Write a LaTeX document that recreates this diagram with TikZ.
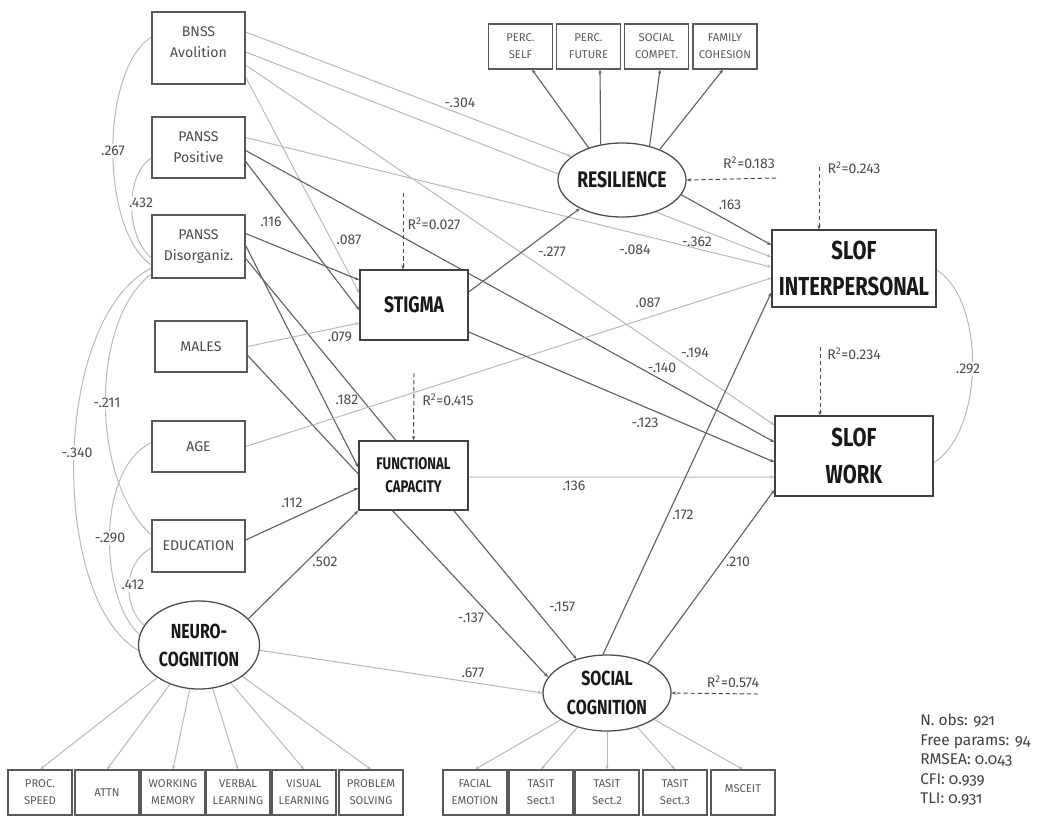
\documentclass[tikz,border=0pt]{standalone}
\usepackage{fontspec}
\setmainfont{Fira Sans}
\newfontfamily\headfont[FakeStretch=0.78]{Fira Sans}
\newfontfamily\statfont[Numbers=OldStyle]{Fira Sans}
\usetikzlibrary{shapes.geometric,arrows.meta,calc,backgrounds}

\begin{document}
\begin{tikzpicture}[x=0.025cm,y=-0.025cm,
    obs/.style={draw=black!65, line width=0.9pt, rectangle, fill=white, align=center, text=black!70, font=\fontsize{10}{15}\selectfont, inner sep=1pt},
    ind/.style={draw=black!65, line width=0.8pt, rectangle, fill=white, align=center, text=black!65, font=\fontsize{8}{12}\selectfont, minimum width=1.6cm, minimum height=1.125cm, inner sep=1pt},
    latent/.style={draw=black!70, line width=0.9pt, ellipse, fill=white, align=center, text=black!90, inner sep=0pt},
    big/.style={draw=black!75, line width=1pt, rectangle, fill=white, align=center, text=black!90, inner sep=1pt},
    strong/.style={draw=black!62, line width=0.8pt, -{Stealth[length=3pt,width=2.4pt]}},
    weak/.style={draw=black!28, line width=0.7pt, -{Stealth[length=3pt,width=2.4pt]}},
    cov/.style={draw=black!28, line width=0.7pt},
    r2/.style={draw=black!70, densely dashed, line width=0.7pt, -{Stealth[length=3pt,width=2.4pt]}},
    coef/.style={text=black!70, font=\fontsize{10}{12}\selectfont, inner sep=1pt},
    gap/.style={coef, fill=white, inner sep=1.5pt}]
\useasboundingbox (0,0) rectangle (1045,824);

% Predictors
\node[obs, minimum width=2.325cm, minimum height=1.8cm] (bnss) at (198.5,48) {BNSS\\Avolition\\[-6pt]\mbox{}};
\node[obs, minimum width=2.325cm, minimum height=1.525cm] (ppos) at (198.5,147.5) {PANSS\\Positive};
\node[obs, minimum width=2.325cm, minimum height=1.575cm] (pdis) at (198.5,246.5) {PANSS\\Disorganiz.};
\node[obs, minimum width=2.3cm, minimum height=1.275cm] (males) at (201,346.5) {MALES};
\node[obs, minimum width=2.325cm, minimum height=1.275cm] (age) at (198.5,446.5) {AGE};
\node[obs, minimum width=2.325cm, minimum height=1.3cm] (edu) at (198.5,546) {EDUCATION};

% Mediators
\node[big, minimum width=2.7cm, minimum height=1.75cm, font=\headfont\bfseries\fontsize{16}{20}\selectfont] (stigma) at (414,305) {STIGMA};
\node[big, minimum width=2.725cm, minimum height=1.725cm, font=\headfont\bfseries\fontsize{12}{16.5}\selectfont] (funccap) at (413.5,475.5) {FUNCTIONAL\\CAPACITY};
\node[latent, minimum width=3.2cm, minimum height=1.85cm, font=\headfont\bfseries\fontsize{16}{20}\selectfont] (res) at (622,180) {RESILIENCE};
\node[latent, minimum width=3.2cm, minimum height=1.9cm, font=\headfont\bfseries\fontsize{14.5}{21}\selectfont] (soccog) at (607,693) {SOCIAL\\COGNITION};
\node[latent, minimum width=3.025cm, minimum height=2.2cm, font=\headfont\bfseries\fontsize{14.5}{20}\selectfont] (neuro) at (199,645) {NEURO-\\COGNITION};

% Outcomes
\node[big, minimum width=4.1cm, minimum height=1.925cm, font=\headfont\bfseries\fontsize{18.5}{26}\selectfont] (slofint) at (854,268.5) {SLOF\\INTERPERSONAL};
\node[big, minimum width=3.95cm, minimum height=2cm, font=\headfont\bfseries\fontsize{18.5}{26}\selectfont] (slofwork) at (854,456) {SLOF\\WORK};

% Indicators
\node[ind] (ps) at (520.5,46.5) {PERC.\\SELF};
\node[ind] (pf) at (588.5,46.5) {PERC.\\FUTURE};
\node[ind] (sc) at (656.5,46.5) {SOCIAL\\COMPET.};
\node[ind] (fc) at (725,46.5) {FAMILY\\COHESION};
\node[ind] (pspeed) at (40,792.5) {PROC.\\SPEED};
\node[ind] (attn) at (107,792.5) {ATTN};
\node[ind] (wmem) at (173,792.5) {WORKING\\MEMORY};
\node[ind] (verbal) at (238,792.5) {VERBAL\\LEARNING};
\node[ind] (visual) at (304,792.5) {VISUAL\\LEARNING};
\node[ind] (probl) at (371,792.5) {PROBLEM\\SOLVING};
\node[ind] (facial) at (475,792.5) {FACIAL\\EMOTION};
\node[ind] (tasit1) at (541,792.5) {TASIT\\Sect.1};
\node[ind] (tasit2) at (607,792.5) {TASIT\\Sect.2};
\node[ind] (tasit3) at (675,792.5) {TASIT\\Sect.3};
\node[ind] (msceit) at (743,792.5) {MSCEIT\\[-6pt]\mbox{}};

\begin{scope}[on background layer]
    % Covariances
    \draw[cov] ($(bnss.west)+(0,-11)$) .. controls (100,70) and (100,230) .. ($(pdis.west)+(0,18.5)$);
    \draw[cov] ($(ppos.west)+(0,10.5)$) .. controls (125,175) and (125,235) .. ($(pdis.west)+(0,11.5)$);
    \draw[cov] ($(pdis.west)+(0,27.5)$) .. controls (90,320) and (90,480) .. ($(edu.west)+(0,-11)$);
    \draw[cov] ($(pdis.west)+(0,21.5)$) .. controls (50,320) and (50,600) .. (neuro.185);
    \draw[cov] ($(age.west)+(0,-4)$) .. controls (95,470) and (100,600) .. (neuro.170);
    \draw[cov] ($(edu.west)+(0,2)$) .. controls (120,565) and (125,610) .. (neuro.160);
    \draw[cov] ($(slofint.east)+(0,1.5)$) .. controls (985,300) and (985,430) .. ($(slofwork.east)+(0,7)$);
    % BNSS
    \draw[weak] ($(bnss.east)+(0,-16)$) -- (res.155);
    \draw[weak] ($(bnss.east)+(0,4)$) -- ($(slofint.west)+(0,-11.5)$);
    \draw[weak] ($(bnss.east)+(0,17)$) -- ($(slofwork.west)+(0,-31)$);
    \draw[weak] ($(bnss.east)+(0,29)$) -- ($(stigma.west)+(0,-12)$);
    % PANSS
    \draw[weak] ($(ppos.east)+(0,-10)$) -- ($(slofint.west)+(0,-1.5)$);
    \draw[strong] ($(ppos.east)+(0,3)$) -- ($(slofwork.west)+(0,-14)$);
    \draw[strong] ($(ppos.east)+(0,14)$) -- ($(stigma.west)+(0,5)$);
    \draw[strong] ($(pdis.east)+(0,-13)$) -- ($(stigma.west)+(0,-25)$);
    \draw[strong] ($(pdis.east)+(0,-1)$) -- ($(funccap.west)+(0,-8)$);
    \draw[strong] ($(pdis.east)+(0,12)$) -- (soccog.132);
    % Males, age, education
    \draw[weak] (males.east) -- ($(stigma.west)+(0,18)$);
    \draw[strong] ($(males.east)+(0,9)$) -- (soccog.165);
    \draw[weak] (age.east) -- ($(slofint.west)+(0,9.5)$);
    \draw[strong] ($(edu.east)+(0,-6)$) -- ($(funccap.west)+(0,12.5)$);
    % Neurocognition
    \draw[strong] (neuro.28) -- (funccap.south west);
    \draw[weak] (neuro.-5) -- (soccog.west);
    % Mediators to outcomes
    \draw[strong] ($(stigma.east)+(0,-13)$) -- (res.214);
    \draw[strong] ($(stigma.east)+(0,27)$) -- ($(slofwork.west)+(0,6)$);
    \draw[strong] (res.-14) -- ($(slofint.west)+(0,-23.5)$);
    \draw[weak] ($(funccap.east)+(0,1.5)$) -- ($(slofwork.west)+(0,21)$);
    \draw[strong] (soccog.96) -- ($(slofint.west)+(0,24)$);
    \draw[strong] (soccog.36) -- ($(slofwork.west)+(0,34)$);
    % Loadings
    \draw[strong] (res.136) -- ($(ps.south)+(11.5,0)$);
    \draw[strong] (res.121) -- ($(pf.south)+(11.5,0)$);
    \draw[strong] (res.51) -- ($(sc.south)+(3.5,0)$);
    \draw[strong] (res.39) -- ($(fc.south)+(-2,0)$);
    \draw[weak] (neuro) -- (pspeed.north);
    \draw[weak] (neuro) -- (attn.north);
    \draw[weak] (neuro) -- (wmem.north);
    \draw[weak] (neuro) -- (verbal.north);
    \draw[weak] (neuro) -- (visual.north);
    \draw[weak] (neuro) -- (probl.north);
    \draw[weak] (soccog) -- (facial.north);
    \draw[weak] (soccog) -- (tasit1.north);
    \draw[weak] (soccog) -- (tasit2.north);
    \draw[weak] (soccog) -- (tasit3.north);
    \draw[weak] (soccog) -- (msceit.north);
\end{scope}

% Explained variance
\coordinate (r027) at (403,193);
\coordinate (r415) at (414,373);
\coordinate (r183) at (776,178);
\coordinate (r243) at (819,167);
\coordinate (r234) at (820,347);
\coordinate (r574) at (758,694);
\draw[r2] (r027) -- ($(stigma.north)+(-11,0)$);
\draw[r2] (r415) -- (funccap.north);
\draw[r2] (r183) -- (res.east);
\draw[r2] (r243) -- ($(slofint.north)+(-35,0)$);
\draw[r2] (r234) -- ($(slofwork.north)+(-34,0)$);
\draw[r2] (r574) -- (soccog.east);
\node[coef] (t027) at (434,224) {R\textsuperscript{2}=0.027};
\node[coef] (t415) at (448,400) {R\textsuperscript{2}=0.415};
\node[coef] (t183) at (749,163) {R\textsuperscript{2}=0.183};
\node[coef] (t243) at (854,168) {R\textsuperscript{2}=0.243};
\node[coef] (t234) at (854,354) {R\textsuperscript{2}=0.234};
\node[coef] (t574) at (733,682) {R\textsuperscript{2}=0.574};

% Coefficients
\node[coef] (b304) at (460,103) {-.304};
\node[coef] (b362) at (697,242) {-.362};
\node[coef] (b084) at (635,250) {-.084};
\node[coef] (b277) at (552,252) {-.277};
\node[coef] (b163) at (730,205) {.163};
\node[coef] (b087a) at (349,240) {.087};
\node[coef] (b116) at (271,222) {.116};
\node[coef] (b079) at (340,337) {.079};
\node[coef] (b182) at (347,400) {.182};
\node[coef] (b112) at (292,503) {.112};
\node[coef] (b502) at (325,562) {.502};
\node[coef] (b677) at (473,673) {.677};
\node[coef] (b137) at (471,618) {-.137};
\node[coef] (b157) at (562,607) {-.157};
\node[coef] (b136) at (574,486) {.136};
\node[coef] (b172) at (683,515) {.172};
\node[coef] (b210) at (738,562) {.210};
\node[coef] (b087b) at (648,303) {.087};
\node[coef] (b194) at (695,353) {-.194};
\node[coef] (b140) at (662,368) {-.140};
\node[coef] (b123) at (645,423) {-.123};
\node[gap] (k267) at (113,151) {.267};
\node[gap] (k432) at (141,203) {.432};
\node[gap] (k211) at (107,403) {-.211};
\node[gap] (k340) at (77,453) {-.340};
\node[gap] (k290) at (110,538) {-.290};
\node[gap] (k412) at (133,585) {.412};
\node[gap] (k292) at (968,369) {.292};

% Fit
\node[anchor=north west, align=left, inner sep=0pt, text=black!75, font=\statfont\fontsize{11}{13.8}\selectfont] (fit) at (920,714) {N. obs: 921\\Free params: 94\\RMSEA: 0.043\\CFI: 0.939\\TLI: 0.931};
\end{tikzpicture}
\end{document}
